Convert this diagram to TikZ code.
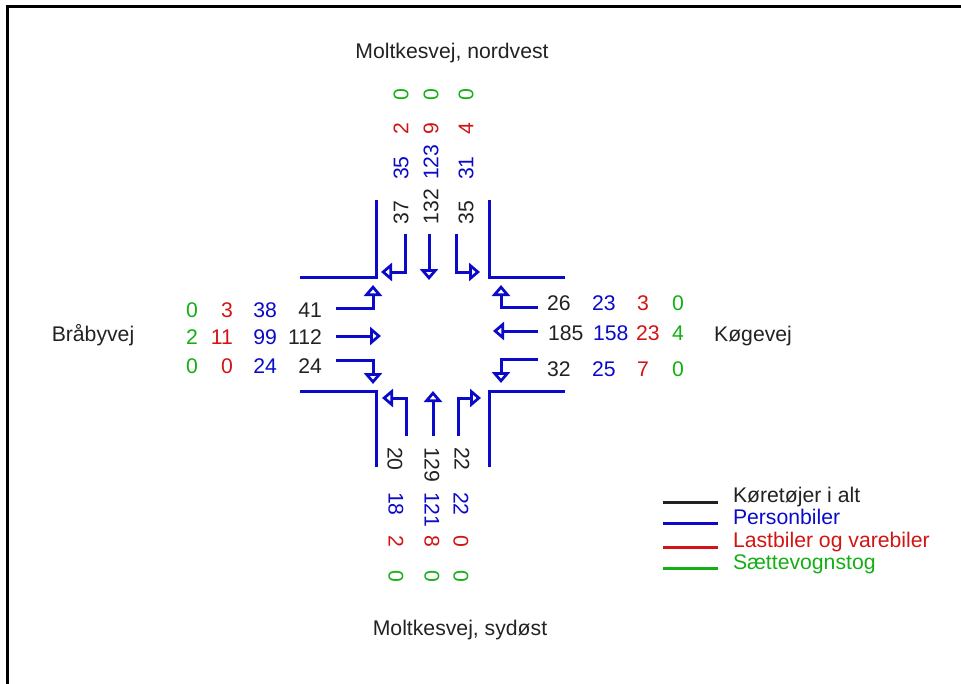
\documentclass[tikz,border=0pt]{standalone}
\usepackage{fontspec}
\setmainfont{Liberation Sans}
\usetikzlibrary{arrows.meta}
\definecolor{cblack}{RGB}{34,34,34}
\definecolor{cblue}{RGB}{10,10,200}
\definecolor{cred}{RGB}{210,20,20}
\definecolor{cgreen}{RGB}{20,175,20}
\begin{document}
\begin{tikzpicture}[x=1bp,y=-1bp,
  every node/.style={inner sep=0pt, outer sep=0pt, font=\fontsize{21.2bp}{25bp}\selectfont},
  road/.style={draw=cblue, line width=3bp, line join=miter},
  lane/.style={draw=cblue, line width=3bp, line join=miter,
    -{Triangle[open, length=11bp, width=18bp]}},
  tot/.style={text=cblack},
  pers/.style={text=cblue},
  last/.style={text=cred},
  saet/.style={text=cgreen},
  up/.style={rotate=90, anchor=west},
  down/.style={rotate=-90, anchor=west},
  leftnum/.style={anchor=east},
  rightnum/.style={anchor=west},
  legline/.style={line width=3bp}]
\useasboundingbox (0,0) rectangle (961,684);
% frame
\draw[line width=3bp, black] (7,684) -- (7,7) -- (961,7);

% road edges
\draw[road] (300,277) -- (376,277) -- (376,200);
\draw[road] (565,277) -- (489,277) -- (489,200);
\draw[road] (300,391) -- (376,391) -- (376,467);
\draw[road] (565,391) -- (489,391) -- (489,467);

% lane arrows, north arm
\draw[lane] (405,234) -- (405,272) -- (381,272);
\draw[lane] (429,234) -- (429,280);
\draw[lane] (456,234) -- (456,272) -- (480,272);
% west arm
\draw[lane] (336,308) -- (373,308) -- (373,285);
\draw[lane] (336,336) -- (381,336);
\draw[lane] (336,360) -- (373,360) -- (373,384);
% east arm
\draw[lane] (538,307) -- (501,307) -- (501,285);
\draw[lane] (538,331) -- (493,331);
\draw[lane] (538,359) -- (501,359) -- (501,383);
% south arm
\draw[lane] (406,436) -- (406,398) -- (382,398);
\draw[lane] (433,436) -- (433,391);
\draw[lane] (458,436) -- (458,398) -- (481,398);

% road names
\node[anchor=base, text=cblack] (nv) at (452,59) {Moltkesvej, nordvest};
\node[anchor=base, text=cblack] (so) at (460,635) {Moltkesvej, sydøst};
\node[anchor=base, text=cblack] (bv) at (93,341) {Bråbyvej};
\node[anchor=base, text=cblack] (kv) at (753,341) {Køgevej};

% counts, north arm
\node[up, tot]  (n1t) at (401,224) {37};
\node[up, tot]  (n2t) at (431,224) {132};
\node[up, tot]  (n3t) at (466,224) {35};
\node[up, pers] (n1p) at (401,180) {35};
\node[up, pers] (n2p) at (431,180) {123};
\node[up, pers] (n3p) at (466,180) {31};
\node[up, last] (n1l) at (401,135) {2};
\node[up, last] (n2l) at (431,135) {9};
\node[up, last] (n3l) at (466,135) {4};
\node[up, saet] (n1s) at (401,101) {0};
\node[up, saet] (n2s) at (431,101) {0};
\node[up, saet] (n3s) at (466,101) {0};

% counts, south arm
\node[down, tot]  (s1t) at (395,447) {20};
\node[down, tot]  (s2t) at (432,447) {129};
\node[down, tot]  (s3t) at (462,447) {22};
\node[down, pers] (s1p) at (396,492) {18};
\node[down, pers] (s2p) at (432,492) {121};
\node[down, pers] (s3p) at (461,492) {22};
\node[down, last] (s1l) at (396,535) {2};
\node[down, last] (s2l) at (432,535) {8};
\node[down, last] (s3l) at (461,535) {0};
\node[down, saet] (s1s) at (396,570) {0};
\node[down, saet] (s2s) at (432,570) {0};
\node[down, saet] (s3s) at (461,570) {0};

% counts, west arm
\node[leftnum, tot]  (w1t) at (322,310) {41};
\node[leftnum, tot]  (w2t) at (322,337) {112};
\node[leftnum, tot]  (w3t) at (322,366) {24};
\node[leftnum, pers] (w1p) at (277,310) {38};
\node[leftnum, pers] (w2p) at (277,337) {99};
\node[leftnum, pers] (w3p) at (277,366) {24};
\node[leftnum, last] (w1l) at (233,310) {3};
\node[leftnum, last] (w2l) at (233,337) {11};
\node[leftnum, last] (w3l) at (233,366) {0};
\node[leftnum, saet] (w1s) at (198,310) {0};
\node[leftnum, saet] (w2s) at (198,337) {2};
\node[leftnum, saet] (w3s) at (198,366) {0};

% counts, east arm
\node[rightnum, tot]  (e1t) at (547,303) {26};
\node[rightnum, tot]  (e2t) at (548,333) {185};
\node[rightnum, tot]  (e3t) at (547,369) {32};
\node[rightnum, pers] (e1p) at (592,303) {23};
\node[rightnum, pers] (e2p) at (593,333) {158};
\node[rightnum, pers] (e3p) at (592,369) {25};
\node[rightnum, last] (e1l) at (637,303) {3};
\node[rightnum, last] (e2l) at (636,333) {23};
\node[rightnum, last] (e3l) at (637,369) {7};
\node[rightnum, saet] (e1s) at (672,303) {0};
\node[rightnum, saet] (e2s) at (672,333) {4};
\node[rightnum, saet] (e3s) at (672,369) {0};

% legend
\coordinate (l1a) at (663,502); \coordinate (l1b) at (718,502);
\coordinate (l2a) at (663,523); \coordinate (l2b) at (718,523);
\coordinate (l3a) at (663,547); \coordinate (l3b) at (718,547);
\coordinate (l4a) at (663,568); \coordinate (l4b) at (718,568);
\draw[legline, cblack] (l1a) -- (l1b);
\draw[legline, cblue]  (l2a) -- (l2b);
\draw[legline, cred]   (l3a) -- (l3b);
\draw[legline, cgreen] (l4a) -- (l4b);
\node[anchor=base west, text=cblack] (lg1) at (733,502) {Køretøjer i alt};
\node[anchor=base west, text=cblue]  (lg2) at (733,524) {Personbiler};
\node[anchor=base west, text=cred]   (lg3) at (733,547) {Lastbiler og varebiler};
\node[anchor=base west, text=cgreen] (lg4) at (733,569) {Sættevognstog};
\end{tikzpicture}
\end{document}
